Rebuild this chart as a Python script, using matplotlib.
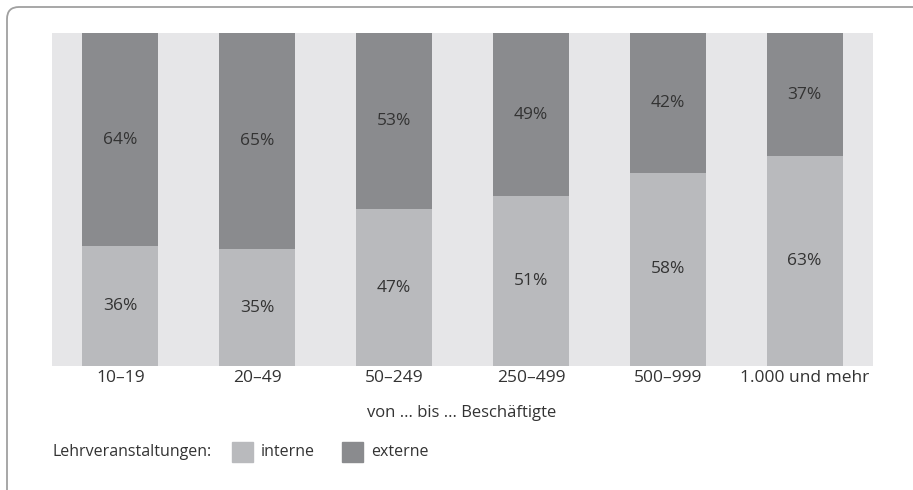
import matplotlib.pyplot as plt
from matplotlib.patches import Rectangle, PathPatch
from matplotlib.path import Path
import numpy as np

plt.rcParams['font.family'] = ['Open Sans', 'DejaVu Sans']

# Daten
categories = ['10–19', '20–49', '50–249', '250–499', '500–999', '1.000 und mehr']
interne = [36, 35, 47, 51, 58, 63]
externe = [64, 65, 53, 49, 42, 37]

c_bg = '#e6e6e8'
c_int = '#b9babd'
c_ext = '#8a8b8e'
c_txt = '#333333'

W, H = 913, 490
fig = plt.figure(figsize=(W / 100, H / 100), dpi=100)

# frame: only top and left line, rounded corner top-left
def fp(px, py):
    return (px / W, 1 - py / H)

verts = [fp(7, 492), fp(7, 19), fp(7, 7), fp(19, 7), fp(915, 7)]
codes = [Path.MOVETO, Path.LINETO, Path.CURVE3, Path.CURVE3, Path.LINETO]
fig.patches.append(PathPatch(Path(verts, codes), transform=fig.transFigure,
                             facecolor='none', edgecolor='#a0a0a0', linewidth=1.3))

ax = fig.add_axes([52 / W, 1 - 366 / H, 821 / W, 333 / H])
ax.set_facecolor(c_bg)
x = np.arange(len(categories))
bw = 0.555
ax.bar(x, interne, width=bw, color=c_int)
ax.bar(x, externe, width=bw, bottom=interne, color=c_ext)

for i in range(len(categories)):
    ax.text(x[i], interne[i] / 2, f'{interne[i]}%', ha='center', va='center',
            fontsize=12.5, color=c_txt)
    ax.text(x[i], interne[i] + externe[i] / 2, f'{externe[i]}%', ha='center',
            va='center', fontsize=12.5, color=c_txt)

ax.set_xlim(-0.5, len(categories) - 0.5)
ax.set_ylim(0, 100)
ax.set_yticks([])
ax.set_xticks(x)
ax.set_xticklabels(categories, fontsize=12.5, color=c_txt)
ax.tick_params(axis='x', length=0, pad=3)
for s in ax.spines.values():
    s.set_visible(False)
fig.text(462 / W, 1 - 413 / H, 'von ... bis ... Beschäftigte', fontsize=12,
         color=c_txt, ha='center', va='center')

# legend
ly = 1 - 452 / H
fig.text(52 / W, ly, 'Lehrveranstaltungen:', fontsize=11.5, color=c_txt, va='center')
fig.patches.append(Rectangle((232 / W, ly - 10 / H), 21 / W, 20 / H,
                             transform=fig.transFigure, color=c_int))
fig.text(261 / W, ly, 'interne', fontsize=11.5, color=c_txt, va='center')
fig.patches.append(Rectangle((342 / W, ly - 10 / H), 21 / W, 20 / H,
                             transform=fig.transFigure, color=c_ext))
fig.text(371 / W, ly, 'externe', fontsize=11.5, color=c_txt, va='center')

fig.savefig('out.png', dpi=100)
